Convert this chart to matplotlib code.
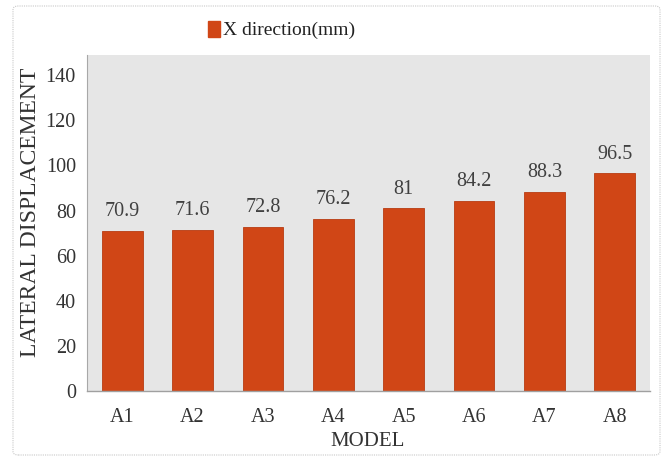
import matplotlib
matplotlib.use("Agg")
import matplotlib.pyplot as plt
from matplotlib.patches import FancyBboxPatch, Patch

models = ["A1", "A2", "A3", "A4", "A5", "A6", "A7", "A8"]
x_disp = [70.9, 71.6, 72.8, 76.2, 81, 84.2, 88.3, 96.5]
y_ticks = [0, 20, 40, 60, 80, 100, 120, 140]

plt.rcParams["font.family"] = ["Liberation Serif", "DejaVu Serif"]

W, H = 668, 459
fig = plt.figure(figsize=(W / 100, H / 100), dpi=100)
fig.patch.set_facecolor("white")

# chart-area frame
frame = FancyBboxPatch((13 / W, 4 / H), 647 / W, 449 / H,
                       boxstyle="round,pad=0,rounding_size=0.008",
                       transform=fig.transFigure, facecolor="none",
                       edgecolor="#c8c8c8", linewidth=0.8, linestyle=(0, (1, 1)))
fig.patches.append(frame)

left, right, top, bottom = 87, 650, 55, 391
ax = fig.add_axes([left / W, 1 - bottom / H, (right - left) / W, (bottom - top) / H])
ax.set_facecolor("#e6e6e6")

bar_color = "#d04616"
pos = list(range(len(models)))
bars = ax.bar(pos, x_disp, width=0.58, color=bar_color, edgecolor="#b83c12",
              linewidth=0.6, zorder=2)

for p, v in zip(pos, x_disp):
    label = f"{v:g}"
    ax.annotate(label, (p, v), xytext=(0, 7), textcoords="offset points",
                ha="center", va="bottom", fontsize=14.5, color="#404040")

ax.set_xlim(-0.5, len(models) - 0.5)
ax.set_ylim(0, 149)
ax.set_yticks(y_ticks)
ax.set_xticks(pos)
ax.set_xticklabels(models)
ax.tick_params(axis="both", length=0, labelsize=14.5, colors="#333333")
ax.tick_params(axis="x", pad=12)
ax.tick_params(axis="y", pad=8)

for side in ["top", "right"]:
    ax.spines[side].set_visible(False)
ax.spines["left"].set_color("#a8a8a8")
ax.spines["left"].set_linewidth(0.8)
ax.spines["bottom"].set_color("#a0a0a0")
ax.spines["bottom"].set_linewidth(1.0)

fig.text(368 / W, 1 - 441 / H, "MODEL", ha="center", va="center",
         fontsize=15, color="#333333")
fig.text(31 / W, 1 - 212 / H, "LATERAL DISPLACEMENT", ha="center", va="center",
         rotation=90, fontsize=17, color="#333333")

handles = [Patch(facecolor=bar_color, edgecolor=bar_color)]
fig.legend(handles, ["X direction(mm)"], loc="center left",
           bbox_to_anchor=(208 / W, 1 - 30 / H), frameon=False, fontsize=14,
           borderpad=0, borderaxespad=0,
           handlelength=0.6, handleheight=0.9, handletextpad=0.15,
           labelcolor="#222222")

fig.savefig("out.png", dpi=100)
